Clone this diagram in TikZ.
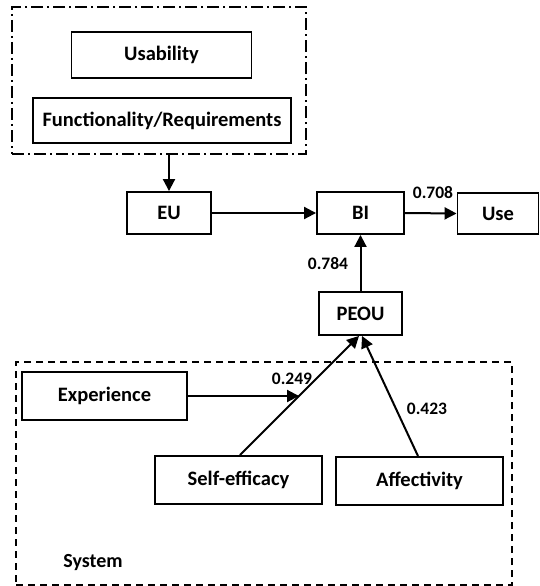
\documentclass[tikz,border=0pt]{standalone}
\usepackage{fontspec}
\setmainfont{Carlito}
\usetikzlibrary{arrows.meta,calc}
\begin{document}
\begin{tikzpicture}[x=1pt,y=-1pt,
  box/.style={draw,line width=1.9pt,minimum width=#1,inner sep=0pt,font=\fontsize{20.5}{24}\selectfont\bfseries},
  lbl/.style={inner sep=0pt,font=\fontsize{17.5}{21}\selectfont\bfseries},
  arr/.style={line width=2pt,-{Triangle[length=12pt,width=12pt]}},
  grpbox/.style={draw,line width=1.7pt,inner sep=0pt},
]
\useasboundingbox (0,0) rectangle (540,586);
% groups
\node[grpbox,dash pattern=on 12pt off 4pt on 2pt off 4pt,minimum width=294pt,minimum height=147pt] (grp) at (159,80.5) {};
\node[grpbox,dash pattern=on 7pt off 5pt,minimum width=496pt,minimum height=223pt] (sys) at (264,473.5) {};
% nodes
\node[box=180pt,minimum height=46pt] (usa) at (161.5,55) {Usability};
\node[box=258pt,minimum height=45pt] (fun) at (162,120.5) {Functionality/Requirements};
\node[box=84pt,minimum height=42pt] (eu) at (169,213) {EU};
\node[box=87pt,minimum height=42pt] (bi) at (360.5,213) {BI};
\node[box=81pt,minimum height=41pt] (use) at (498,213.5) {Use};
\node[box=83pt,minimum height=43pt] (peou) at (360.5,313.5) {PEOU};
\node[box=165pt,minimum height=48pt] (exp) at (104.5,396) {Experience};
\node[box=167pt,minimum height=48pt] (sef) at (238.5,480) {Self-efficacy};
\node[box=167pt,minimum height=48pt] (aff) at (419.5,481) {Affectivity};
% labels
\node[lbl] (l708) at (433,193) {0.708};
\node[lbl] (l784) at (328,264) {0.784};
\node[lbl] (l249) at (292,379) {0.249};
\node[lbl] (l423) at (427,409) {0.423};
\node[lbl,font=\fontsize{20}{24}\selectfont\bfseries] (sysl) at (93,563) {System};
% connectors
\draw[arr] (grp.south -| eu.north) -- (eu.north);
\draw[arr] (eu.east) -- (bi.west);
\draw[arr] (bi.east) -- (use.west);
\draw[arr] (peou.north) -- (bi.south);
\coordinate (pl) at ([xshift=-1.5pt]peou.south);
\coordinate (pr) at ([xshift=1.5pt]peou.south);
\coordinate (sst) at ([xshift=1.5pt]sef.north);
\coordinate (ast) at ([xshift=-1.5pt]aff.north);
\draw[arr] (sst) -- (pl);
\draw[arr] (ast) -- (pr);
\coordinate (hit) at ($(sst)!0.496!(pl)$);
\draw[arr] (exp.east) -- (exp.east -| hit);
\end{tikzpicture}
\end{document}
